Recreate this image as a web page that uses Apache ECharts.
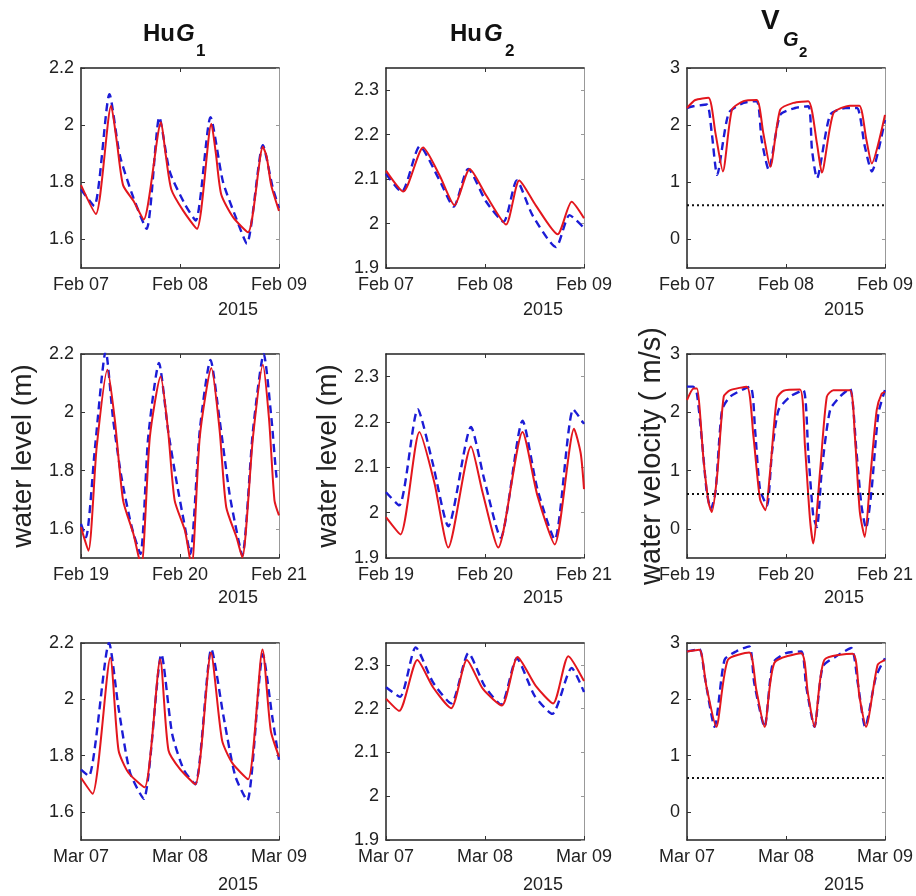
<!DOCTYPE html>
<html>
<head>
<meta charset="utf-8">
<script src="https://cdn.jsdelivr.net/npm/echarts@6/dist/echarts.min.js"></script>
<style>html,body{margin:0;padding:0;background:#fff}#c{width:916px;height:896px}</style>
</head>
<body>
<div id="c"></div>
<script>
// ---------- DATA (hours since start of panel window, value) ----------
const xLabelsFebA = ['Feb 07', 'Feb 08', 'Feb 09'];
const xLabelsFebB = ['Feb 19', 'Feb 20', 'Feb 21'];
const xLabelsMar  = ['Mar 07', 'Mar 08', 'Mar 09'];
const yearLabel = '2015';
const hourTicks = [0, 24, 48];
const yTicksG1 = [1.6, 1.8, 2, 2.2];
const yTicksG2 = [1.9, 2, 2.1, 2.2, 2.3];
const yTicksV  = [0, 1, 2, 3];
const velocityThreshold = 0.6;

// Row 1 : Feb 07 - Feb 09
const g1FebA_red  = [[0,1.79],[3.6,1.689],[7.3,2.068],[8.7,1.94],[10.2,1.79],[12.7,1.735],[15.2,1.67],[19.4,2.01],[20.5,1.90],[21.9,1.775],[24.8,1.70],[28.1,1.637],[31.6,2.005],[32.7,1.90],[34,1.757],[36.9,1.677],[40.5,1.625],[44.1,1.924],[45,1.89],[46.1,1.79],[48,1.70]];
const g1FebA_blue = [[0,1.775],[3.2,1.717],[6.9,2.108],[9.4,1.895],[12.7,1.746],[15.9,1.637],[19,2.028],[21.5,1.838],[25.2,1.723],[27.8,1.666],[31.4,2.028],[34.4,1.803],[37.7,1.671],[40.2,1.585],[44.1,1.93],[46.5,1.78],[48,1.71]];
const g2FebA_red  = [[0,2.119],[4.2,2.072],[9,2.171],[13,2.108],[16.6,2.041],[20.3,2.123],[24.3,2.063],[29.1,1.998],[32.3,2.097],[36.3,2.041],[41.6,1.976],[45,2.049],[48,2.012]];
const g2FebA_blue = [[0,2.112],[3.8,2.071],[8.2,2.174],[13,2.097],[16.4,2.038],[19.9,2.123],[24.3,2.049],[28.5,2.004],[31.7,2.097],[35.5,2.019],[41.2,1.947],[44.5,2.019],[48,1.99]];
const vFebA_red   = [[0,2.30],[2,2.44],[5.2,2.48],[6.9,1.86],[8.7,1.19],[10.9,2.27],[13.7,2.42],[16.9,2.44],[18.5,1.86],[20.2,1.27],[22.6,2.27],[25.8,2.39],[29.4,2.42],[31.5,1.68],[32.7,1.17],[35.5,2.21],[39.5,2.34],[41.8,2.34],[43.5,1.74],[44.8,1.33],[48,2.18]];
const vFebA_blue  = [[0,2.30],[1.5,2.33],[4.8,2.36],[6,1.86],[7.3,1.13],[10.1,2.21],[13.7,2.39],[16.9,2.42],[18.1,1.74],[19.8,1.22],[22.6,2.18],[26.2,2.30],[29.4,2.33],[30.3,1.57],[31.5,1.07],[34.7,2.18],[38.4,2.30],[41.2,2.30],[43.1,1.63],[44.8,1.19],[48,2.09]];

// Row 2 : Feb 19 - Feb 21
const g1FebB_red  = [[0,1.606],[1.8,1.525],[3.8,1.88],[6.4,2.146],[8.2,1.974],[10.2,1.698],[12.7,1.583],[14.6,1.47],[16.7,1.916],[19.3,2.123],[21.1,1.939],[22.7,1.698],[25.2,1.594],[26.8,1.47],[28.8,1.916],[31.6,2.152],[33.6,1.939],[35.2,1.675],[37.7,1.571],[39.1,1.502],[41.7,1.916],[44.1,2.163],[45.6,1.974],[46.9,1.698],[48,1.646]];
const g1FebB_blue = [[0,1.617],[1.2,1.571],[3.4,1.88],[6,2.21],[7.8,1.974],[9.8,1.778],[12.3,1.606],[14.4,1.514],[16.3,1.916],[18.9,2.169],[21.1,1.939],[23.1,1.767],[25.2,1.606],[26.5,1.514],[28.8,1.939],[31.4,2.18],[33.6,1.974],[36,1.721],[37.7,1.594],[39.1,1.508],[41.7,1.939],[44.3,2.2],[46.2,1.974],[47.4,1.778],[48,1.76]];
const g2FebB_red  = [[0,1.99],[3.5,1.952],[8.1,2.178],[11.7,2.067],[15.1,1.923],[20.6,2.146],[23.4,2.045],[27.2,1.923],[33.1,2.178],[36.7,2.038],[40.9,1.93],[45.6,2.185],[47.2,2.131],[48,2.052]];
const g2FebB_blue = [[0,2.045],[3.2,2.016],[7.7,2.228],[11.3,2.11],[15.1,1.97],[20.6,2.189],[23.8,2.074],[27.8,1.945],[33.1,2.203],[36.7,2.052],[40.9,1.941],[45.4,2.228],[48,2.196]];
const vFebB_red   = [[0,2.21],[1.6,2.41],[2.4,2.41],[4,1.19],[5.2,0.46],[6,0.29],[7.3,0.91],[8.9,2.27],[10.5,2.38],[14.5,2.44],[16.1,1.59],[17.7,0.51],[19,0.32],[20.2,1.02],[21.8,2.24],[23.4,2.37],[27.4,2.39],[28.6,1.42],[29.8,0.18],[30.6,-0.25],[32.3,1.02],[33.9,2.27],[35.5,2.38],[39.5,2.38],[40.7,1.59],[41.9,0.29],[43.1,-0.14],[44.4,0.85],[46,2.04],[47.2,2.32],[48,2.35]];
const vFebB_blue  = [[0,2.44],[1.5,2.44],[2.4,2.32],[3.6,1.53],[4.8,0.63],[5.8,0.34],[6.9,0.63],[8.5,2.04],[10.5,2.27],[15.3,2.44],[16.5,1.70],[17.7,0.68],[19.4,0.40],[20.6,1.31],[22.2,2.04],[25,2.27],[28.2,2.38],[29.4,1.31],[30.6,0.23],[31.5,0.03],[32.7,1.02],[34.7,2.04],[37.1,2.27],[39.5,2.41],[41.1,1.31],[42.3,0.40],[43.4,0.01],[44.7,0.63],[46.4,1.98],[48,2.38]];

// Row 3 : Mar 07 - Mar 09
const g1Mar_red  = [[0,1.721],[2.8,1.664],[7.1,2.148],[9.1,1.819],[11.5,1.739],[15.4,1.687],[19.2,2.142],[21.2,1.819],[24.1,1.75],[27.7,1.698],[31.5,2.165],[34.2,1.854],[36.7,1.773],[40.5,1.716],[44,2.177],[46,1.889],[48,1.796]];
const g1Mar_blue = [[0,1.75],[1.9,1.727],[6.8,2.2],[9.1,1.969],[11.9,1.739],[15.2,1.646],[19.5,2.16],[22.1,1.877],[24.9,1.75],[27.7,1.698],[31.6,2.179],[34.6,1.935],[37.4,1.727],[40.3,1.64],[44.1,2.16],[46.4,1.935],[48,1.785]];
const g2Mar_red  = [[0,2.223],[3.2,2.195],[7.6,2.311],[11.4,2.249],[15.8,2.201],[19.6,2.311],[23.5,2.245],[28.1,2.207],[31.9,2.318],[36.3,2.252],[40.5,2.212],[44.2,2.32],[48,2.263]];
const g2Mar_blue = [[0,2.249],[3.4,2.227],[7.2,2.34],[11.4,2.26],[15.8,2.212],[20,2.327],[23.9,2.252],[27.9,2.209],[31.7,2.315],[36,2.23],[40.3,2.188],[45,2.293],[48,2.238]];
const vMar_red   = [[0,2.85],[3,2.88],[4.7,2.23],[7.1,1.51],[9.9,2.70],[15.1,2.83],[16.8,2.17],[18.8,1.51],[21.2,2.65],[27.7,2.82],[29.3,2.11],[30.9,1.51],[33.3,2.70],[40.2,2.81],[41.8,2.05],[43.4,1.51],[46.2,2.61],[48,2.70]];
const vMar_blue  = [[0,2.85],[3,2.89],[4.3,2.40],[6.7,1.51],[9.1,2.70],[11.9,2.85],[15.1,2.94],[16.3,2.29],[18.8,1.51],[20.8,2.64],[24,2.82],[27.7,2.85],[28.9,2.23],[30.9,1.51],[32.9,2.58],[36.1,2.76],[39.8,2.91],[41.4,2.29],[43.2,1.51],[45.8,2.40],[48,2.73]];

// ---------- LAYOUT / STYLE ----------
const FONT = '"Liberation Sans", Arial, sans-serif';
const colLeft = [81, 386, 687];
const colWidth = 198;
const rowTop = [68, 354, 643];
const rowHeight = [200, 204, 197];
const yearY = [310, 598, 885];
const RED = '#e3161d', BLUE = '#1c1cd6';

const rowXLabels = [xLabelsFebA, xLabelsFebB, xLabelsMar];
const colScale = [
  {min: 1.5, max: 2.2, ticks: yTicksG1},
  {min: 1.9, max: 2.35, ticks: yTicksG2},
  {min: -0.5, max: 3, ticks: yTicksV}
];
const panelData = [
  [[g1FebA_red, g1FebA_blue], [g2FebA_red, g2FebA_blue], [vFebA_red, vFebA_blue]],
  [[g1FebB_red, g1FebB_blue], [g2FebB_red, g2FebB_blue], [vFebB_red, vFebB_blue]],
  [[g1Mar_red, g1Mar_blue], [g2Mar_red, g2Mar_blue], [vMar_red, vMar_blue]]
];
const yNames = ['water level (m)', 'water level (m)', 'water velocity ( m/s)'];
const yNameGap = [44, 44, 20];
const yNameSize = [28, 28, 29];

const grids = [], xAxes = [], yAxes = [], series = [];
let gi = 0;
for (let r = 0; r < 3; r++) {
  for (let c = 0; c < 3; c++) {
    grids.push({left: colLeft[c], top: rowTop[r], width: colWidth, height: rowHeight[r], containLabel: false});
    const labels = rowXLabels[r];
    const sc = colScale[c];
    xAxes.push({
      type: 'value', gridIndex: gi, min: 0, max: 48, position: 'bottom',
      axisLine: {show: true, onZero: false, lineStyle: {color: '#222', width: 1.5}},
      axisTick: {show: true, inside: true, length: 4, customValues: hourTicks, lineStyle: {color: '#333'}},
      axisLabel: {show: true, customValues: hourTicks, margin: 8, fontSize: 18, color: '#222', fontFamily: FONT,
        formatter: v => labels[Math.round(v / 24)]},
      splitLine: {show: false}
    });
    xAxes.push({
      type: 'value', gridIndex: gi, min: 0, max: 48, position: 'top',
      axisLine: {show: true, onZero: false, lineStyle: {color: '#222', width: 1.5}},
      axisTick: {show: true, inside: true, length: 4, customValues: [24], lineStyle: {color: '#333'}},
      axisLabel: {show: false}, splitLine: {show: false}
    });
    const yLeft = {
      type: 'value', gridIndex: gi, min: sc.min, max: sc.max, position: 'left',
      axisLine: {show: true, onZero: false, lineStyle: {color: '#222', width: 1.5}},
      axisTick: {show: true, inside: true, length: 4, customValues: sc.ticks, lineStyle: {color: '#333'}},
      axisLabel: {show: true, customValues: sc.ticks, margin: 7, fontSize: 18, color: '#222', fontFamily: FONT},
      splitLine: {show: false}
    };
    if (r === 1) {
      Object.assign(yLeft, {
        name: yNames[c], nameLocation: 'middle', nameRotate: 90, nameGap: yNameGap[c],
        nameTextStyle: {fontSize: yNameSize[c], color: '#222', fontFamily: FONT}
      });
    }
    yAxes.push(yLeft);
    yAxes.push({
      type: 'value', gridIndex: gi, min: sc.min, max: sc.max, position: 'right',
      axisLine: {show: true, onZero: false, lineStyle: {color: '#999', width: 1}},
      axisTick: {show: true, inside: true, length: 3, customValues: sc.ticks, lineStyle: {color: '#999'}},
      axisLabel: {show: false}, splitLine: {show: false}
    });
    const [red, blue] = panelData[r][c];
    series.push({
      type: 'line', xAxisIndex: 2 * gi, yAxisIndex: 2 * gi, data: blue, showSymbol: false, symbol: 'none',
      smooth: 0.22, clip: true, silent: true,
      lineStyle: {color: BLUE, width: 2.4, type: [8, 5]}, z: 2
    });
    series.push({
      type: 'line', xAxisIndex: 2 * gi, yAxisIndex: 2 * gi, data: red, showSymbol: false, symbol: 'none',
      smooth: 0.22, clip: true, silent: true,
      lineStyle: {color: RED, width: 2}, z: 3
    });
    if (c === 2) {
      series.push({
        type: 'line', xAxisIndex: 2 * gi, yAxisIndex: 2 * gi,
        data: [[0, velocityThreshold], [48, velocityThreshold]], showSymbol: false, symbol: 'none', silent: true,
        lineStyle: {color: '#111', width: 2, type: [2, 3]}, z: 4
      });
    }
    gi++;
  }
}

// Column titles and year labels
const graphic = [];
const tt = (text, x, y, size, weight, style) => ({
  type: 'text', x, y, silent: true,
  style: {text, fontSize: size, fontWeight: weight, fontStyle: style || 'normal', fontFamily: FONT,
    fill: '#111', align: 'left', verticalAlign: 'middle'}
});
graphic.push(tt('Hu', 143, 34, 24, 'bold'), tt('G', 176, 34, 24, 'bold', 'italic'), tt('1', 196, 51, 17, 'bold'));
graphic.push(tt('Hu', 450, 34, 24, 'bold'), tt('G', 484, 34, 24, 'bold', 'italic'), tt('2', 505, 51, 17, 'bold'));
graphic.push(tt('V', 761, 21, 28, 'bold'), tt('G', 783, 40, 20, 'bold', 'italic'), tt('2', 799, 53, 15, 'bold'));
for (let r = 0; r < 3; r++) {
  for (let c = 0; c < 3; c++) {
    graphic.push({
      type: 'text', x: colLeft[c] + 157, y: yearY[r], silent: true,
      style: {text: yearLabel, fontSize: 18, fontFamily: FONT, fill: '#222', align: 'center', verticalAlign: 'middle'}
    });
  }
}

const chart = echarts.init(document.getElementById('c'), null, {renderer: 'canvas'});
chart.setOption({
  animation: false,
  backgroundColor: '#fff',
  grid: grids, xAxis: xAxes, yAxis: yAxes, series: series, graphic: graphic
});
</script>
</body>
</html>
